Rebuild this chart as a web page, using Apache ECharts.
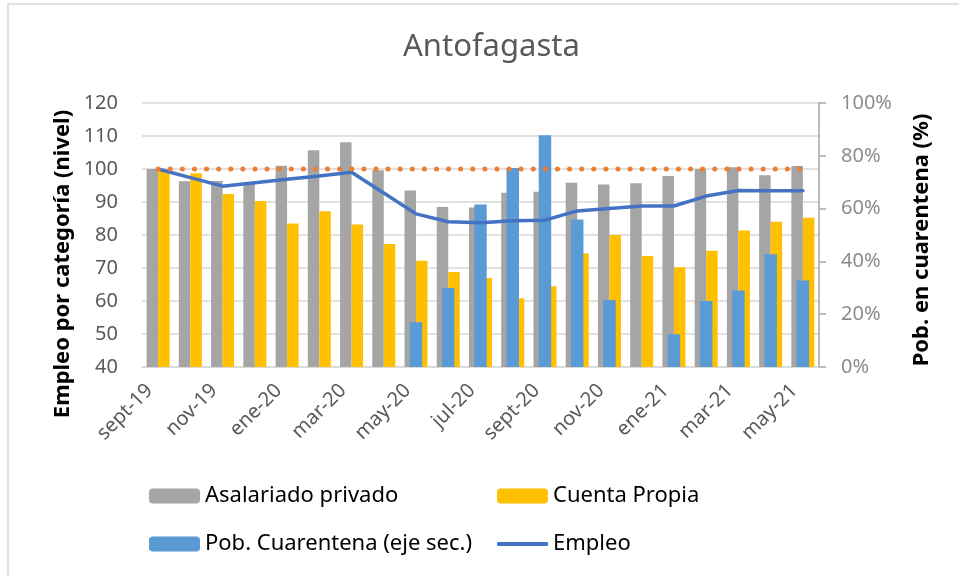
<!DOCTYPE html>
<html>
<head>
<meta charset="utf-8">
<script src="https://cdn.jsdelivr.net/npm/echarts@6/dist/echarts.min.js"></script>
<style>
  html, body { margin: 0; padding: 0; background: #fff; }
  #chart { width: 959px; height: 577px; }
</style>
</head>
<body>
<div id="chart"></div>
<script>
// datos
var categories = ['sept-19', 'oct-19', 'nov-19', 'dic-19', 'ene-20', 'feb-20', 'mar-20', 'abr-20', 'may-20', 'jun-20', 'jul-20',
  'ago-20', 'sept-20', 'oct-20', 'nov-20', 'dic-20', 'ene-21', 'feb-21', 'mar-21', 'abr-21', 'may-21']
var asalariado = [100.0, 96.3, 96.4, 95.5, 101.0, 105.7, 108.1, 99.6, 93.5, 88.5, 88.3, 92.8, 93.1, 95.8, 95.3, 95.7, 97.9, 100.0, 100.5, 98.1, 100.9]
var cuentaPropia = [99.7, 98.7, 92.4, 90.3, 83.5, 87.2, 83.2, 77.3, 72.2, 68.8, 67.0, 60.8, 64.5, 74.5, 80.0, 73.6, 70.2, 75.2, 81.4, 84.0, 85.2]
// % de poblacion en cuarentena (eje secundario)
var cuarentena = [null, null, null, null, null, null, null, null, 17.0, 29.9, 61.6, 75.4, 87.8, 55.9, 25.4, null, 12.4, 25.0, 29.0, 42.7, 32.8]
var empleo = [100.0, 97.4, 94.8, 95.8, 96.9, 97.9, 99.0, 92.7, 86.4, 84.0, 83.7, 84.3, 84.5, 87.3, 88.0, 88.8, 88.8, 91.8, 93.5, 93.4, 93.4]
var referencia = [100, 100, 100, 100, 100, 100, 100, 100, 100, 100, 100, 100, 100, 100, 100, 100, 100, 100, 100, 100, 100]

var font = "'Noto Sans', sans-serif"
var legendBase = {
  itemWidth: 51,
  itemHeight: 15,
  itemGap: 0,
  padding: 0,
  textStyle: { fontSize: 22, color: '#000', fontFamily: font }
}

var myChart = echarts.init(document.getElementById('chart'))
myChart.setOption({
  animation: false,
  textStyle: { fontFamily: font },
  title: {
    text: 'Antofagasta',
    left: 398,
    top: 27,
    textStyle: { fontSize: 31, fontWeight: 'normal', color: '#595959', fontFamily: font }
  },
  graphic: [
    {
      type: 'rect',
      shape: { x: 8, y: 4, width: 1000, height: 620 },
      style: { fill: 'none', stroke: '#d9d9d9', lineWidth: 1.5 },
      silent: true
    },
    {
      type: 'text',
      x: 63,
      y: 264,
      rotation: Math.PI / 2,
      style: { text: 'Empleo por categoría (nivel)', font: 'bold 22px ' + font, fill: '#000', align: 'center', verticalAlign: 'middle' }
    },
    {
      type: 'text',
      x: 922,
      y: 240,
      rotation: Math.PI / 2,
      style: { text: 'Pob. en cuarentena (%)', font: 'bold 22px ' + font, fill: '#000', align: 'center', verticalAlign: 'middle' }
    }
  ],
  legend: [
    Object.assign({ data: ['Asalariado privado'], left: 149, top: 485 }, legendBase),
    Object.assign({ data: ['Cuenta Propia'], left: 497, top: 485 }, legendBase),
    Object.assign({ data: ['Pob. Cuarentena (eje sec.)'], left: 149, top: 533 }, legendBase),
    Object.assign({ data: [{ name: 'Empleo', icon: 'roundRect' }], left: 497, top: 533 }, legendBase, { itemHeight: 4 })
  ],
  grid: { left: 142, right: 140, top: 103, bottom: 210 },
  xAxis: [
    {
      type: 'category',
      data: categories,
      axisLine: { lineStyle: { color: '#d9d9d9', width: 1.5 } },
      axisTick: { show: false },
      axisLabel: { interval: 1, rotate: 45, fontSize: 20, color: '#595959', margin: 12, padding: [0, 12, 0, 0] }
    },
    {
      type: 'category',
      data: categories,
      show: false
    }
  ],
  yAxis: [
    {
      type: 'value',
      min: 40,
      max: 120,
      interval: 10,
      axisLine: { show: false },
      axisTick: { show: false },
      splitLine: { lineStyle: { color: '#d9d9d9', width: 1.5 } },
      axisLabel: { fontSize: 20, color: '#595959', margin: 24 }
    },
    {
      type: 'value',
      position: 'right',
      min: 0,
      max: 100,
      interval: 20,
      axisLine: { show: true, lineStyle: { color: '#a6a6a6', width: 1.5 } },
      axisTick: { show: true, length: 7, lineStyle: { color: '#a6a6a6', width: 1.5 } },
      splitLine: { show: false },
      axisLabel: { formatter: '{value}%', fontSize: 20, color: '#8c8c8c', margin: 22 }
    }
  ],
  series: [
    {
      name: 'Asalariado privado',
      type: 'bar',
      xAxisIndex: 0,
      yAxisIndex: 0,
      barWidth: 11.5,
      barGap: '0%',
      itemStyle: { color: '#A5A5A5' },
      data: asalariado
    },
    {
      name: 'Cuenta Propia',
      type: 'bar',
      xAxisIndex: 0,
      yAxisIndex: 0,
      barWidth: 11.5,
      barGap: '0%',
      itemStyle: { color: '#FFC000' },
      data: cuentaPropia
    },
    {
      name: 'Pob. Cuarentena (eje sec.)',
      type: 'bar',
      xAxisIndex: 1,
      yAxisIndex: 1,
      barWidth: 12.5,
      itemStyle: { color: '#5B9BD5' },
      data: cuarentena
    },
    {
      name: 'Empleo',
      type: 'line',
      xAxisIndex: 0,
      yAxisIndex: 0,
      symbol: 'none',
      z: 4,
      lineStyle: { color: '#4472C4', width: 3.5, cap: 'round', join: 'round' },
      itemStyle: { color: '#4472C4' },
      data: empleo
    },
    {
      name: 'Referencia',
      type: 'line',
      xAxisIndex: 0,
      yAxisIndex: 0,
      symbol: 'none',
      silent: true,
      z: 5,
      lineStyle: { color: '#ED7D31', width: 5, type: [0.1, 12], cap: 'round' },
      data: referencia
    }
  ]
})
</script>
</body>
</html>
